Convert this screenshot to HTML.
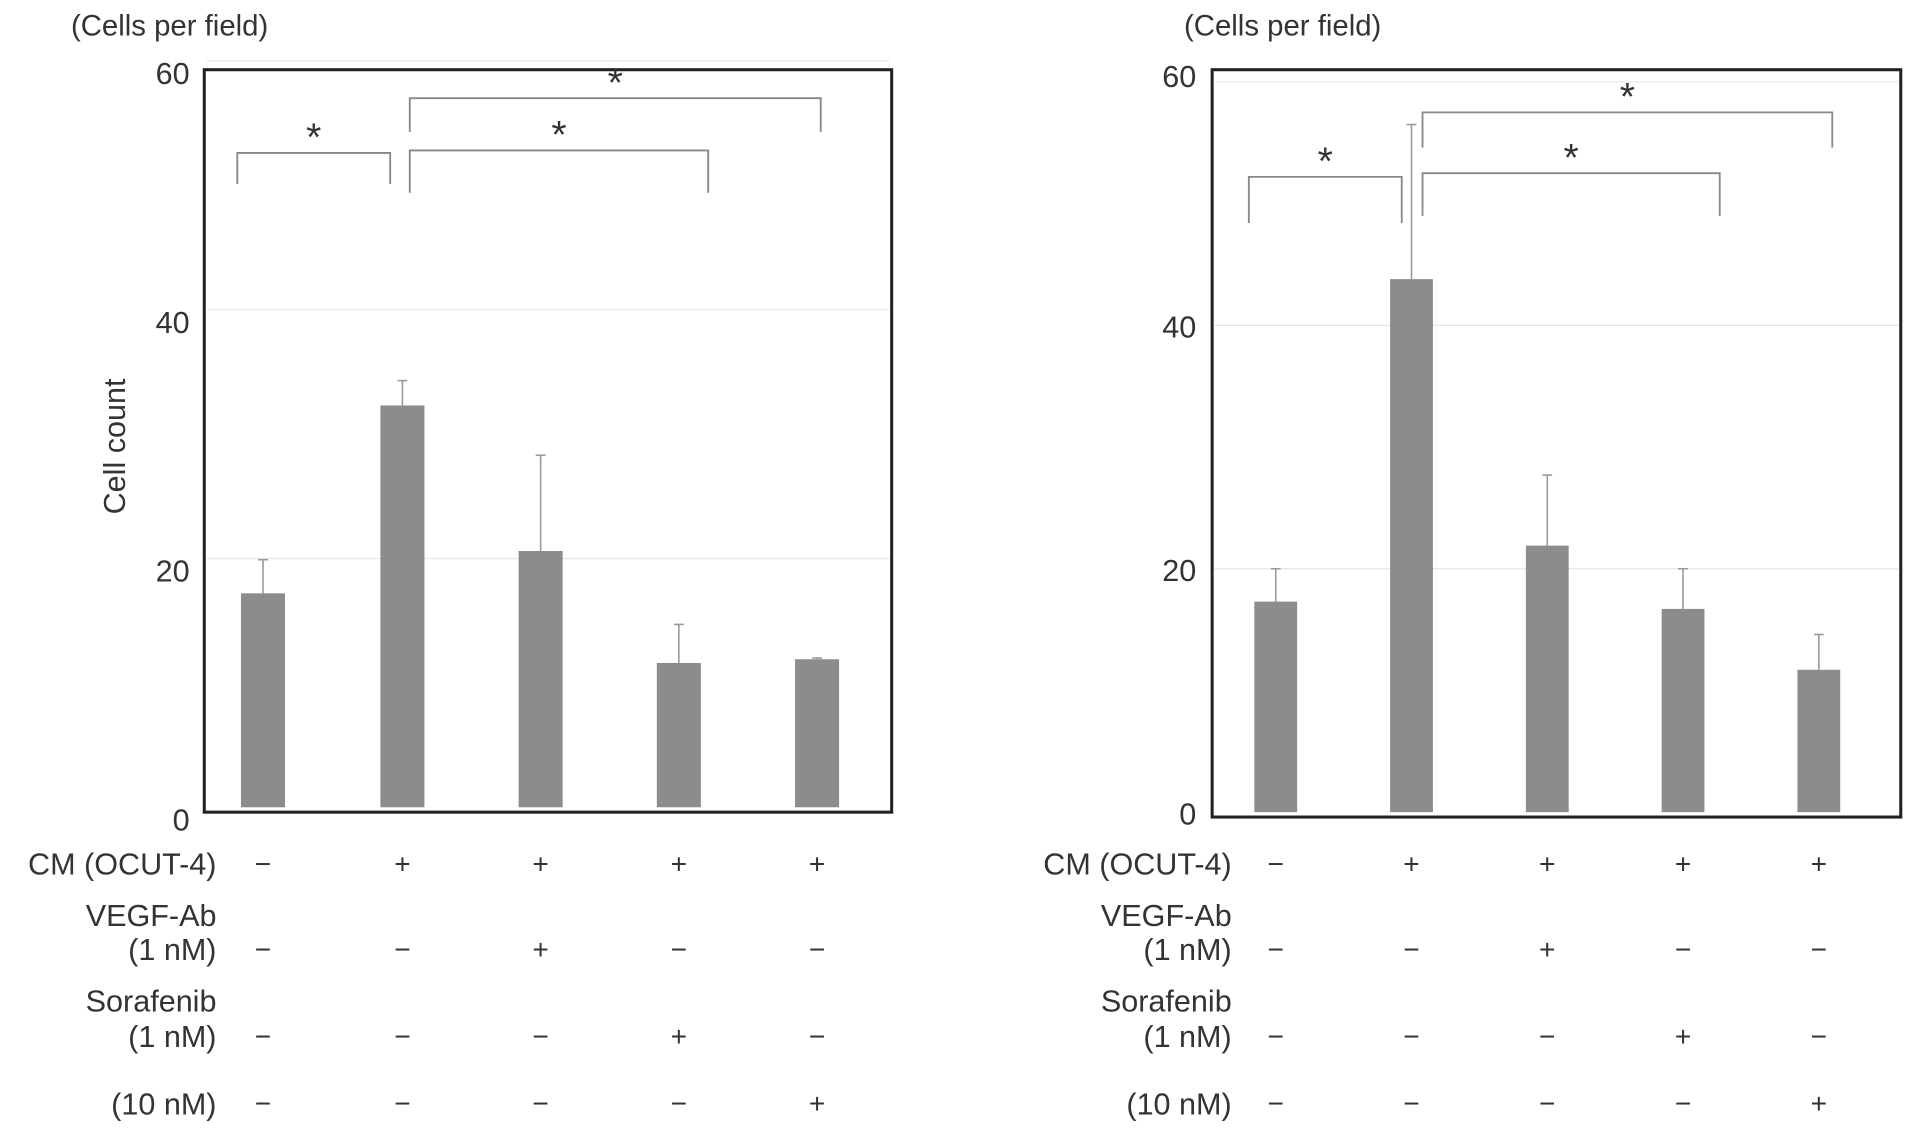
<!DOCTYPE html>
<html><head><meta charset="utf-8">
<style>
html,body{margin:0;padding:0;background:#fff;}
svg{display:block;}
text{font-family:"Liberation Sans",sans-serif;fill:#333;}
</style></head>
<body>
<svg id="chart" width="1913" height="1132" viewBox="0 0 1564 925.5" preserveAspectRatio="none" xmlns="http://www.w3.org/2000/svg"></svg>
<script>
const leftValues = [17.2, 32.3, 20.6, 11.6, 11.9];
const leftErrors = [2.7, 2.0, 7.7, 3.1, 0.1];
const rightValues = [17.3, 43.8, 21.9, 16.7, 11.7];
const rightErrors = [2.7, 12.7, 5.8, 3.3, 2.9];
const yTicks = [0, 20, 40, 60];
const rowLabels = ["CM (OCUT-4)", "VEGF-Ab", "(1 nM)", "Sorafenib", "(1 nM)", "(10 nM)"];
const cmRow = ["−", "+", "+", "+", "+"];
const vegfRow = ["−", "−", "+", "−", "−"];
const sora1Row = ["−", "−", "−", "+", "−"];
const sora10Row = ["−", "−", "−", "−", "+"];
const leftBrackets = [[0, 1, 50.1, 52.6], [1, 3, 49.4, 52.8], [1, 4, 54.3, 57.0]];
const rightBrackets = [[0, 1, 48.4, 52.2], [1, 3, 49.0, 52.5], [1, 4, 54.6, 57.5]];

const NS = "http://www.w3.org/2000/svg";
const svg = document.getElementById('chart');
function mk(tag, attrs, parent) {
  const e = document.createElementNS(NS, tag);
  for (const k in attrs) e.setAttribute(k, attrs[k]);
  (parent || svg).appendChild(e);
  return e;
}

const panels = [
  {name:'left', fx0:167, fx1:729, fy0:57, y0:660, ppu:10.17, centers:[215,329,442,555,668], bw:36, values:leftValues, errors:leftErrors, brackets:leftBrackets, bxa:[-21,6,6], bxb:[-10,24,3], labelX:177, tickX:155, tickOff:19, titleX:58},
  {name:'right', fx0:991, fx1:1554, fy0:57, y0:664, ppu:9.95, centers:[1043,1154,1265,1376,1487], bw:35, values:rightValues, errors:rightErrors, brackets:rightBrackets, bxa:[-22,9,9], bxb:[-8,30,11], labelX:1007, tickX:978, tickOff:10, titleX:968}
];

panels.forEach(p => {
  const g = mk('g', {});
  
  
  const y = v => p.y0 - v * p.ppu;
  yTicks.forEach(t => {
    if (t > 0) {
      const gl = mk('line', {x1:p.fx0+2, x2:p.fx1-2, y1:y(t), y2:y(t), stroke:'#e6e6e6', 'stroke-width':1}, g);
      
      
    }
    const off = (p.name === 'right' && t === 60) ? 4 : p.tickOff;
    const tl = mk('text', {x:p.tickX, y:y(t)+off, 'text-anchor':'end', 'font-size':25}, g);
    tl.textContent = t;
    
    
  });
  p.values.forEach((v, i) => {
    const cx = p.centers[i];
    const b = mk('rect', {x:cx-p.bw/2, y:y(v), width:p.bw, height:y(0)-y(v), fill:'#8c8c8c'}, g);
    
    
    const top = y(v + p.errors[i]);
    const e1 = mk('line', {x1:cx, x2:cx, y1:y(v), y2:top, stroke:'#999', 'stroke-width':1.3}, g);
    
    
    const e2 = mk('line', {x1:cx-4, x2:cx+4, y1:top, y2:top, stroke:'#999', 'stroke-width':1.3}, g);
    
    
  });
  const fr = mk('rect', {x:p.fx0, y:p.fy0, width:p.fx1-p.fx0, height:y(0)+4-p.fy0, fill:'none', stroke:'#222', 'stroke-width':2.5}, g);
  
  
  p.brackets.forEach((br, k) => {
    const xa = p.centers[br[0]] + p.bxa[k], xb = p.centers[br[1]] + p.bxb[k];
    const yl = y(br[2]), yt = y(br[3]);
    const pl = mk('polyline', {points:`${xa},${yl} ${xa},${yt} ${xb},${yt} ${xb},${yl}`, fill:'none', stroke:'#888', 'stroke-width':1.5}, g);
    
    
    const st = mk('text', {x:(xa+xb)/2, y:yt-2, 'text-anchor':'middle', 'font-size':32, fill:'#222'}, g);
    st.textContent = '*';
    
    
  });
  const tt = mk('text', {x:p.titleX, y:29, 'font-size':24}, g);
  tt.textContent = '(Cells per field)';
  
  
  const rowY = [715, 757, 785, 827, 856, 911];
  rowLabels.forEach((lab, r) => {
    const t = mk('text', {x:p.labelX, y:rowY[r], 'text-anchor':'end', 'font-size':25}, g);
    t.textContent = lab;
    
    
  });
  const rows = [[cmRow, 714], [vegfRow, 784], [sora1Row, 855], [sora10Row, 910]];
  rows.forEach((rw) => {
    rw[0].forEach((s, i) => {
      const t = mk('text', {x:p.centers[i], y:rw[1], 'text-anchor':'middle', 'font-size':23}, g);
      t.textContent = s;
      
      
    });
  });
});
const yt = mk('text', {x:0, y:0, 'text-anchor':'middle', 'font-size':25, transform:'translate(102,365) rotate(-90)'});
yt.textContent = 'Cell count';


</script>
</body></html>
